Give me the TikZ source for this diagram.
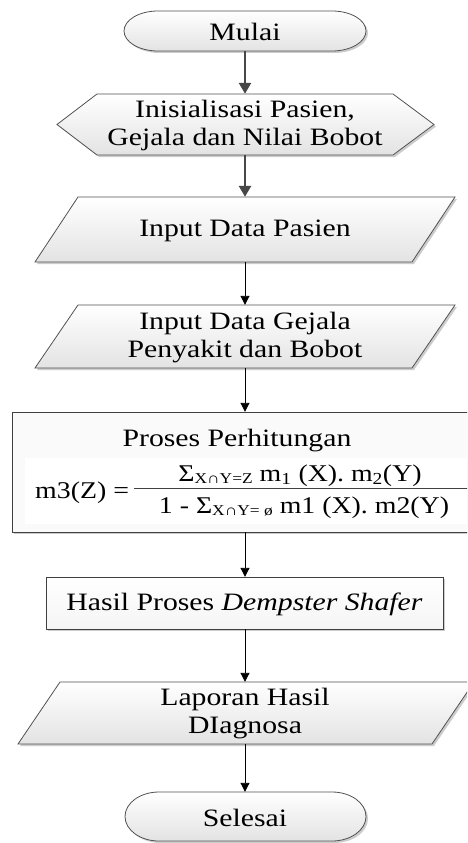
\documentclass[tikz,border=0pt]{standalone}
\usepackage{fontspec}
\setmainfont{Liberation Serif}[FakeStretch=1.19]
\newfontfamily\fmfont{Liberation Serif}[FakeStretch=1.16]
\usetikzlibrary{arrows.meta}
\newcommand\TermPath[4]{(#1+34,#3) -- (#2-34,#3) arc[start angle=-90,end angle=90,x radius=34,y radius={(#4-#3)/2}] -- (#1+34,#4) arc[start angle=90,end angle=270,x radius=34,y radius={(#4-#3)/2}] -- cycle}
\newcommand\lowsub[1]{\raisebox{-0.1em}{\fontsize{15}{15}\selectfont #1}}
\begin{document}
\begin{tikzpicture}[x=1pt,y=-1pt,
  shapeline/.style={draw=black!68, line width=0.8pt, top color=white, bottom color=black!11},
  shadowc/.style={fill=black!20},
  txt/.style={font=\fontsize{25}{28}\selectfont, align=center, inner sep=0pt},
  ftxt/.style={font=\fmfont\fontsize{24}{28}\selectfont, inner sep=0pt},
  anch/.style={draw=none, inner sep=0pt, minimum width=4pt},
  garrow/.style={draw=black!72, line width=2.6pt, -{Triangle[length=11pt,width=12pt]}},
  barrow/.style={draw=black, line width=0.9pt, -{Triangle[length=9pt,width=9pt]}}]
\useasboundingbox (0,0) rectangle (467,843);
\clip (0,0) rectangle (467,843);
\fill[white] (0,0) rectangle (467,843);

% Mulai
\fill[shadowc,shift={(2,2)}] \TermPath{124}{366}{11}{51};
\path[shapeline] \TermPath{124}{366}{11}{51};
\node[anch, minimum height=40pt] (start) at (245,31) {};
\node[txt] (tstart) at (245,32) {Mulai};

% Hexagon
\fill[shadowc,shift={(2,2)}] (57,124.5) -- (97,94) -- (393,94) -- (434,124.5) -- (393,155) -- (97,155) -- cycle;
\path[shapeline] (57,124.5) -- (97,94) -- (393,94) -- (434,124.5) -- (393,155) -- (97,155) -- cycle;
\node[anch, minimum height=61pt] (init) at (245,124.5) {};
\node[txt] (tinit) at (245,125.5) {Inisialisasi Pasien,\\Gejala dan Nilai Bobot};

% Input Data Pasien
\fill[shadowc,shift={(2,2)}] (78,197) -- (455,197) -- (412,262) -- (35,262) -- cycle;
\path[shapeline] (78,197) -- (455,197) -- (412,262) -- (35,262) -- cycle;
\node[anch, minimum height=65pt] (pasien) at (245,229.5) {};
\node[txt] (tpasien) at (245,230.5) {Input Data Pasien};

% Input Data Gejala
\fill[shadowc,shift={(2,2)}] (78,305) -- (455,305) -- (412,368) -- (35,368) -- cycle;
\path[shapeline] (78,305) -- (455,305) -- (412,368) -- (35,368) -- cycle;
\node[anch, minimum height=63pt] (gejala) at (245,336.5) {};
\node[txt] (tgejala) at (245,337.5) {Input Data Gejala\\Penyakit dan Bobot};

% Proses Perhitungan
\fill[shadowc] (14,414) rectangle (490,534);
\draw[draw=black!75, line width=0.8pt, fill=black!2] (12,412) rectangle (488,532);
\node[anch, minimum height=120pt] (proses) at (245,472) {};
\node[txt, anchor=base] (tproses) at (237,446) {Proses Perhitungan};
\fill[white] (25,458) rectangle (470,524);
\node[ftxt, anchor=base west] (lhs) at (35,498) {m3(Z) =};
\draw[line width=1pt, black!75] (134,488) -- (470,488);
\node[ftxt, anchor=base] (num) at (300,481) {Σ\lowsub{X∩Y=Z} m\textsubscript{1} (X). m\textsubscript{2}(Y)};
\node[ftxt, anchor=base] (den) at (304,513) {1 - Σ\lowsub{X∩Y= ø} m1 (X). m2(Y)};

% Hasil
\fill[shadowc] (48,579) rectangle (445,631);
\draw[draw=black!75, line width=0.8pt, top color=white, bottom color=black!4] (46,577) rectangle (443,629);
\node[anch, minimum height=52pt] (hasil) at (245,603) {};
\node[txt] (thasil) at (244.5,604) {Hasil Proses \textit{Dempster Shafer}};

% Laporan
\fill[shadowc,shift={(2,2)}] (60,682) -- (474,682) -- (432,744) -- (18,744) -- cycle;
\path[shapeline] (60,682) -- (474,682) -- (432,744) -- (18,744) -- cycle;
\node[anch, minimum height=62pt] (laporan) at (245,713) {};
\node[txt] (tlaporan) at (245,714) {Laporan Hasil\\DIagnosa};

% Selesai
\fill[shadowc,shift={(2,2)}] \TermPath{125}{366}{792}{841};
\path[shapeline] \TermPath{125}{366}{792}{841};
\node[anch, minimum height=49pt] (end) at (245,816.5) {};
\node[txt] (tend) at (245,817.5) {Selesai};

% connectors
\draw[garrow] (start.south) -- (init.north);
\draw[garrow] (init.south) -- (pasien.north);
\draw[barrow] (pasien.south) -- (gejala.north);
\draw[barrow] (gejala.south) -- (proses.north);
\draw[barrow] (proses.south) -- (hasil.north);
\draw[barrow] (hasil.south) -- (laporan.north);
\draw[barrow] (laporan.south) -- (end.north);
\end{tikzpicture}
\end{document}
